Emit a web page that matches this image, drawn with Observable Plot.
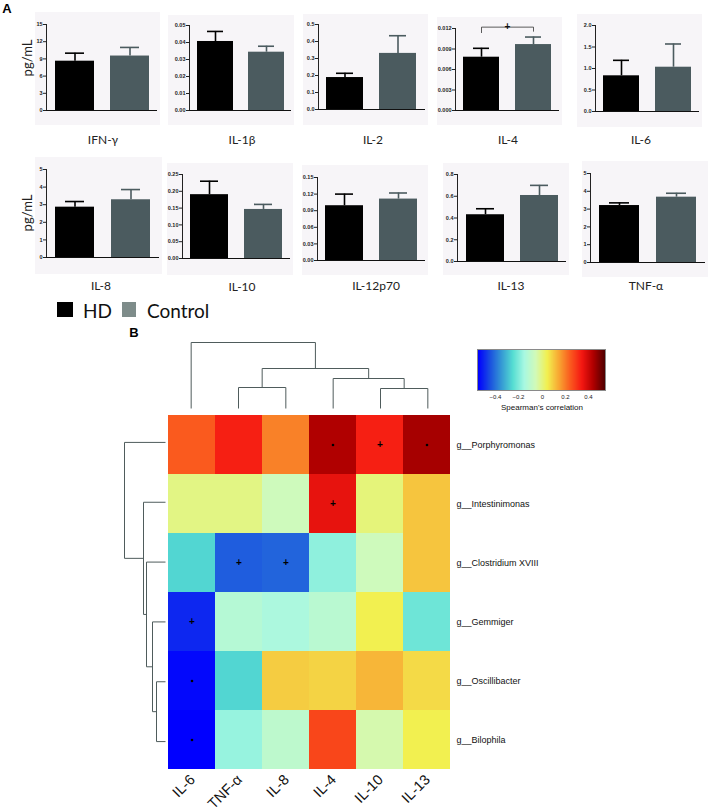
<!DOCTYPE html>
<html><head><meta charset="utf-8">
<script src="https://cdn.jsdelivr.net/npm/d3@7"></script>
<script src="https://cdn.jsdelivr.net/npm/@observablehq/plot@0.6"></script>
<style>
body{margin:0;background:#fff;}
#fig{position:relative;width:709px;height:811px;overflow:hidden;background:#fff;}
.abs{position:absolute;}
.abs svg{display:block;overflow:visible;}
.lbl{position:absolute;transform:translate(-50%,-50%);white-space:nowrap;font-family:Lato,sans-serif;color:#222;}
#cleg line{display:none;}
</style></head><body><div id="fig"></div>
<script>
// ---------------- DATA ----------------
const groups = ["HD", "Control"];
const cytokines = ["IFN-γ", "IL-1β", "IL-2", "IL-4", "IL-6", "IL-8", "IL-10", "IL-12p70", "IL-13", "TNF-α"];
const hdMean  = [8.6, 0.0406, 0.188, 0.0078, 0.83, 2.86, 0.190, 0.099, 0.430, 3.20];
const hdSE    = [1.4, 0.0059, 0.025, 0.0013, 0.36, 0.32, 0.040, 0.021, 0.055, 0.15];
const ctlMean = [9.5, 0.0343, 0.330, 0.00965, 1.03, 3.28, 0.146, 0.111, 0.607, 3.67];
const ctlSE   = [1.5, 0.0035, 0.104, 0.0011, 0.54, 0.58, 0.015, 0.011, 0.093, 0.22];
const yTicks = [
  [0, 3, 6, 9, 12, 15],
  [0, 0.01, 0.02, 0.03, 0.04, 0.05],
  [0, 0.1, 0.2, 0.3, 0.4, 0.5],
  [0, 0.003, 0.006, 0.009, 0.012],
  [0, 0.5, 1, 1.5, 2],
  [0, 1, 2, 3, 4, 5],
  [0, 0.05, 0.1, 0.15, 0.2, 0.25],
  [0, 0.03, 0.06, 0.09, 0.12, 0.15],
  [0, 0.2, 0.4, 0.6, 0.8],
  [0, 1, 2, 3, 4, 5]
];
const tickDecimals = [0, 2, 1, 3, 1, 0, 2, 2, 1, 0];
const sigBrackets = [{cytokine: "IL-4", label: "+", y: 0.0122, leftEnd: 0.0114, rightEnd: 0.0116}];
const yUnit = "pg/mL";

const taxa = ["g__Porphyromonas", "g__Intestinimonas", "g__Clostridium XVIII", "g__Gemmiger", "g__Oscillibacter", "g__Bilophila"];
const heatCols = ["IL-6", "TNF-α", "IL-8", "IL-4", "IL-10", "IL-13"];
const corr = [
  [ 0.25,  0.34,  0.20,  0.45,  0.34,  0.46],
  [ 0.00,  0.00, -0.06,  0.37,  0.01,  0.11],
  [-0.26, -0.43, -0.42, -0.18, -0.06,  0.11],
  [-0.50, -0.12, -0.14, -0.11,  0.05, -0.22],
  [-0.54, -0.26,  0.10,  0.09,  0.13,  0.08],
  [-0.55, -0.17, -0.10,  0.28, -0.04,  0.05]
];
const sig = [
  ["", "", "", "*", "+", "*"],
  ["", "", "", "+", "", ""],
  ["", "+", "+", "", "", ""],
  ["+", "", "", "", "", ""],
  ["*", "", "", "", "", ""],
  ["*", "", "", "", "", ""]
];
// dendrogram merges: [childA, childB, height]; numbers refer to earlier merges (1-based)
const colMerges = [["TNF-α", "IL-8", 21], ["IL-10", "IL-13", 20], ["IL-4", 2, 30], [1, 3, 40], ["IL-6", 4, 66]];
const rowMerges = [["g__Oscillibacter", "g__Bilophila", 9], ["g__Gemmiger", 1, 13], ["g__Clostridium XVIII", 2, 19], ["g__Intestinimonas", 3, 22], ["g__Porphyromonas", 4, 41]];
const colorStops = [-0.55, -0.45, -0.35, -0.25, -0.15, -0.05, 0.05, 0.15, 0.25, 0.35, 0.45, 0.55];
const colorRange = ["#0000ff", "#1a4ee0", "#3598d4", "#55ddd2", "#a8f8e2", "#d2fab8", "#f2f050", "#f8a832", "#fa5a1e", "#f51812", "#b00000", "#500000"];
const legendTicks = [-0.4, -0.2, 0, 0.2, 0.4];
const legendLabel = "Spearman's correlation";

// ---------------- LAYOUT ----------------
const fig = document.getElementById("fig");
function place(node, left, top, id) {
  const d = document.createElement("div");
  d.className = "abs"; d.style.left = left + "px"; d.style.top = top + "px";
  if (id) d.id = id;
  d.appendChild(node); fig.appendChild(d); return d;
}
function label(text, x, y, css) {
  const d = document.createElement("div");
  d.className = "lbl"; d.textContent = text;
  d.style.left = x + "px"; d.style.top = y + "px";
  Object.assign(d.style, css || {});
  fig.appendChild(d); return d;
}
// [left, top, width, height, axisX, yTopPx, y0Px]
const panelBox = [
  [35, 12, 125, 113, 46, 24, 110],
  [168, 15, 126, 110, 189, 25, 110],
  [303, 14, 125, 111, 318, 24, 109],
  [437, 17, 125, 108, 455, 28, 110],
  [577, 14, 125, 113, 595, 25, 111],
  [35, 157, 127, 117, 46, 169, 257],
  [167, 163, 126, 112, 182, 174, 258],
  [302, 165, 126, 110, 317, 177, 260],
  [443, 163, 126, 112, 457, 174, 261],
  [582, 161, 126, 116, 590, 173, 262]
];
const labelPos = [[103, 139], [242, 139], [373, 139], [508, 139], [641, 139], [101, 285], [242, 286], [376, 285], [511, 285], [646, 285]];
const barColors = ["#000000", "#4b5b5f"];

cytokines.forEach((name, i) => {
  const [L, T, W, H, ax, yt, y0] = panelBox[i];
  const rows = [
    {group: groups[0], mean: hdMean[i], se: hdSE[i]},
    {group: groups[1], mean: ctlMean[i], se: ctlSE[i]}
  ];
  const ticks = yTicks[i];
  const marks = [
    Plot.barY(rows, {x: "group", y: "mean", fill: "group"}),
    Plot.ruleX(rows, {x: "group", y1: "mean", y2: d => d.mean + d.se, stroke: "group", strokeWidth: 1.6}),
    Plot.tickY(rows, {x: "group", y: d => d.mean + d.se, stroke: "group", strokeWidth: 1.6, inset: 10}),
    Plot.ruleY([0], {stroke: "#111", strokeWidth: 1})
  ];
  sigBrackets.filter(s => s.cytokine === name).forEach(s => {
    const pts = [
      {group: groups[0], y: s.leftEnd}, {group: groups[0], y: s.y},
      {group: groups[1], y: s.y}, {group: groups[1], y: s.rightEnd}
    ];
    marks.push(Plot.line(pts, {x: "group", y: "y", stroke: "#333", strokeWidth: 0.8}));
    marks.push(Plot.text([s.label], {frameAnchor: "top", y: () => s.y, dy: -4, fontSize: 10, fontWeight: "bold", fill: "#111"}));
  });
  const p = Plot.plot({
    width: W, height: H,
    marginLeft: ax - L, marginTop: yt - T, marginBottom: T + H - y0, marginRight: 3,
    style: {background: "#f7f5f8", fontSize: "5.5px", fontWeight: "bold", fontFamily: "Liberation Sans, Arial, sans-serif", color: "#222"},
    x: {domain: groups, axis: null, paddingInner: 0.3, paddingOuter: 0.15},
    y: {domain: [0, ticks[ticks.length - 1]], ticks: ticks, tickFormat: d3.format(`.${tickDecimals[i]}f`), tickSize: 3, tickPadding: 1, line: true, label: null},
    color: {domain: groups, range: barColors},
    marks
  });
  place(p, L, T);
  label(name, labelPos[i][0], labelPos[i][1], {fontSize: "12px"});
});

label(yUnit, 27, 58, {fontSize: "13px", transform: "translate(-50%,-50%) rotate(-90deg)"});
label(yUnit, 27, 213, {fontSize: "13px", transform: "translate(-50%,-50%) rotate(-90deg)"});
label("A", 7, 8, {fontFamily: "Liberation Sans, Arial", fontWeight: "bold", fontSize: "13px", color: "#000"});
label("B", 134, 332, {fontFamily: "Liberation Sans, Arial", fontWeight: "bold", fontSize: "13px", color: "#000"});

// group legend
[[groups[0], "#000000", 57, 83], [groups[1], "#7e8c8a", 122, 147]].forEach(([g, c, sx, tx]) => {
  const sq = document.createElement("div");
  sq.className = "abs";
  Object.assign(sq.style, {left: sx + "px", top: "302px", width: (g === "HD" ? 16 : 14) + "px", height: "15px", background: c});
  fig.appendChild(sq);
  const t = document.createElement("div");
  t.className = "abs"; t.textContent = g;
  Object.assign(t.style, {left: tx + "px", top: "299px", fontFamily: "Lato, sans-serif", fontSize: "19px", lineHeight: "24px", color: "#111"});
  fig.appendChild(t);
});

// ---------------- HEATMAP ----------------
const cells = taxa.flatMap((r, i) => heatCols.map((c, j) => ({row: r, col: c, value: corr[i][j], sig: sig[i][j]})));
const colorOpts = {type: "linear", domain: colorStops, range: colorRange};
const heat = Plot.plot({
  width: 549, height: 406,
  marginLeft: 7, marginTop: 7, marginRight: 258, marginBottom: 40,
  style: {fontFamily: "Liberation Sans, Arial, sans-serif", color: "#111", background: "transparent"},
  x: {domain: heatCols, padding: 0, axis: null},
  y: {domain: taxa, padding: 0, axis: null},
  color: colorOpts,
  marks: [
    Plot.cell(cells, {x: "col", y: "row", fill: "value"}),
    Plot.text(cells.filter(d => d.sig === "+"), {x: "col", y: "row", text: "sig", fontSize: 10, fontWeight: "bold", fill: "#000"}),
    Plot.dot(cells.filter(d => d.sig === "*"), {x: "col", y: "row", r: 1.3, fill: "#000"}),
    Plot.text(heatCols, {x: d => d, frameAnchor: "bottom", text: d => d, rotate: -45, textAnchor: "end", dx: 4, dy: 9, fontSize: 14.5, fill: "#111"}),
    Plot.text(taxa, {y: d => d, frameAnchor: "right", text: d => d, textAnchor: "start", dx: 5, fontSize: 9, fill: "#111"})
  ]
});
place(heat, 160, 405, "heat");

function dendroSegments(leaves, merges) {
  const nodes = [], segs = [];
  const get = k => typeof k === "number" ? nodes[k - 1] : {pos: leaves.indexOf(k), h: 0};
  merges.forEach(([a, b, h]) => {
    const A = get(a), B = get(b);
    segs.push({p1: A.pos, h1: A.h, p2: A.pos, h2: h});
    segs.push({p1: B.pos, h1: B.h, p2: B.pos, h2: h});
    segs.push({p1: A.pos, h1: h, p2: B.pos, h2: h});
    nodes.push({pos: (A.pos + B.pos) / 2, h});
  });
  return segs;
}
const colSegs = dendroSegments(heatCols, colMerges);
const topDendro = Plot.plot({
  width: 284, height: 75, marginLeft: 0, marginRight: 0, marginTop: 7, marginBottom: 2,
  x: {domain: [-0.5, heatCols.length - 0.5], axis: null},
  y: {domain: [0, d3.max(colMerges, d => d[2])], axis: null},
  marks: [Plot.link(colSegs, {x1: "p1", y1: "h1", x2: "p2", y2: "h2", stroke: "#4f5c5c", strokeWidth: 1})]
});
place(topDendro, 167, 335);

const rowSegs = dendroSegments(taxa, rowMerges);
const leftDendro = Plot.plot({
  width: 47, height: 359, marginLeft: 4, marginRight: 2, marginTop: 0, marginBottom: 0,
  x: {domain: [d3.max(rowMerges, d => d[2]), 0], axis: null},
  y: {domain: [taxa.length - 0.5, -0.5], axis: null},
  marks: [Plot.link(rowSegs, {x1: "h1", y1: "p1", x2: "h2", y2: "p2", stroke: "#4f5c5c", strokeWidth: 1})]
});
place(leftDendro, 120, 412);

// color legend
const leg = Plot.legend({
  color: colorOpts, width: 127, height: 52, marginTop: 0, marginBottom: 12, marginLeft: 0, marginRight: 0,
  ticks: legendTicks, tickFormat: d3.format(""), tickSize: 2, label: null,
  style: {fontSize: "6px", fontFamily: "Liberation Sans, Arial, sans-serif", color: "#222", background: "transparent"}
});
place(leg, 478, 350, "cleg");
const border = document.createElement("div");
border.className = "abs";
Object.assign(border.style, {left: "477px", top: "349px", width: "127px", height: "40px", border: "1px solid #8a8a8a"});
fig.appendChild(border);
label(legendLabel, 542, 407, {fontFamily: "Liberation Sans, Arial, sans-serif", fontSize: "8px", color: "#111"});
</script></body></html>
